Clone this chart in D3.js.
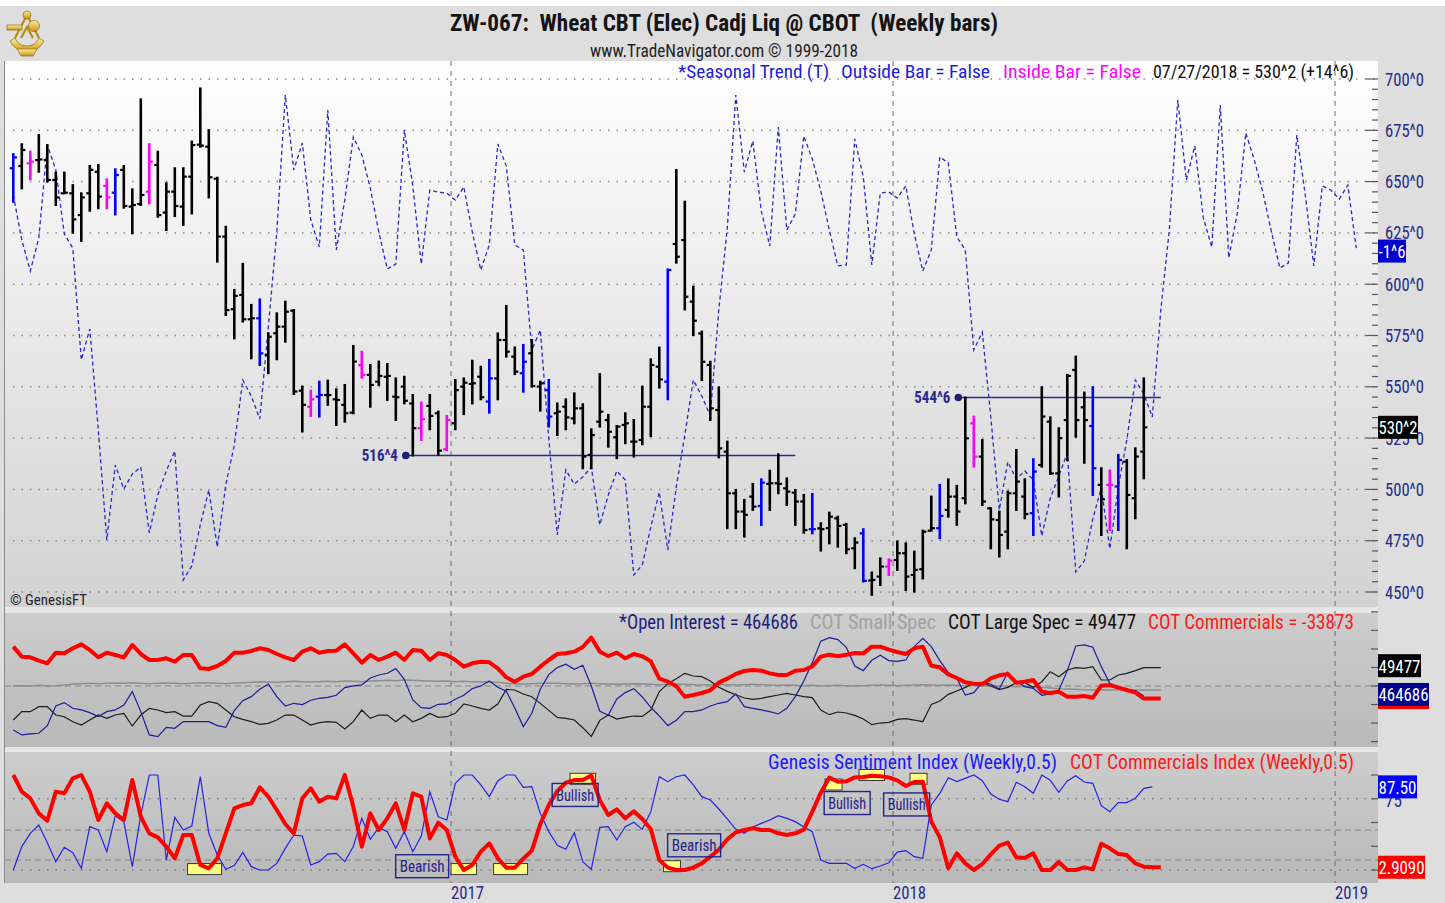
<!DOCTYPE html>
<html>
<head>
<meta charset="utf-8">
<title>ZW-067 Wheat CBT (Weekly bars)</title>
<script src="https://cdnjs.cloudflare.com/ajax/libs/d3/7.8.5/d3.min.js"></script>
<style>
  body { margin: 0; background: #fff; }
  svg text { font-family: "Liberation Sans Narrow", "Arial Narrow", "Roboto Condensed", "Liberation Sans", sans-serif; white-space: pre; }
</style>
</head>
<body>
<div id="chart"></div>
<script>
// weekly bars, first Fri 2016-01-08, last Fri 2018-07-27
var firstBar = new Date(2016, 0, 8);
var lastBar = new Date(2018, 6, 27);

var opens = [656.5,657.6,658.9,660.5,660.5,650.8,644.3,644.3,633.7,644.3,
  654.8,647.9,644.6,655.7,637.8,639.1,645.1,658.1,634.9,645.1,
  637.8,652.4,668.0,667.0,651.4,623.2,587.8,594.8,582.9,583.4,
  565.5,576.1,579.3,587.1,548.1,540.3,545.2,546.0,543.9,541.2,
  537.4,560.6,555.8,552.5,554.9,545.2,550.1,541.9,529.8,540.7,
  537.1,519.5,532.2,550.1,551.4,554.9,542.8,554.1,572.8,564.7,
  556.6,566.3,550.1,548.4,537.1,540.3,534.6,539.5,516.8,533.0,
  533.8,525.4,531.4,523.3,524.1,540.3,559.8,552.5,619.6,621.5,
  591.5,576.0,560.6,538.7,518.4,498.1,489.2,496.5,491.9,502.7,
  503.0,500.5,498.4,494.1,480.6,481.0,481.1,485.9,482.7,471.3,
  478.6,455.6,457.5,462.4,465.6,468.9,458.3,461.1,479.9,481.1,
  490.0,496.5,495.7,532.2,516.0,490.8,485.1,479.4,498.1,496.5,
  488.4,511.9,533.0,507.8,533.8,558.2,540.0,530.9,502.2,502.2,
  501.4,513.5,495.7,518.4];
var highs = [663.4,668.2,664.6,672.7,667.8,654.4,654.4,648.3,644.3,657.6,
  658.1,651.1,656.0,657.6,646.2,690.1,668.2,664.6,649.2,656.5,
  656.5,669.5,695.4,675.1,651.9,628.0,597.2,609.9,589.9,592.6,
  576.1,585.8,591.5,587.4,550.1,548.1,552.5,553.0,548.8,550.9,
  569.9,567.1,560.6,562.3,561.1,554.1,554.9,546.0,542.3,546.0,
  537.9,535.8,553.3,554.1,562.7,559.8,563.1,576.0,589.4,569.2,
  570.4,572.8,552.5,553.3,541.9,543.9,546.8,541.5,529.3,556.2,
  536.3,530.9,537.1,533.8,550.1,563.4,569.1,607.2,655.6,640.2,
  598.8,576.9,562.2,549.7,523.3,499.7,494.9,502.7,504.9,509.1,
  517.1,505.4,499.7,497.3,497.8,483.5,488.7,486.7,483.2,476.2,
  480.6,459.5,466.4,465.9,474.6,473.7,469.7,479.9,496.5,502.2,
  504.9,501.7,544.75,535.5,524.1,490.8,489.2,498.9,519.2,504.9,
  514.7,549.8,535.1,529.8,555.8,564.7,547.2,549.8,510.3,509.2,
  516.8,514.3,520.0,554.1];
var lows = [640.2,646.7,651.1,654.8,650.0,638.6,644.3,625.1,621.1,635.8,
  637.0,637.0,634.0,637.3,624.8,638.6,639.4,632.9,626.4,633.2,
  628.9,634.5,667.0,642.3,611.0,585.0,573.6,581.8,563.9,560.6,
  556.6,563.4,572.0,546.5,528.2,535.8,535.5,541.2,531.4,533.0,
  537.1,554.5,540.3,550.9,543.6,533.8,541.9,516.5,524.1,529.3,
  517.0,519.2,529.3,536.7,541.9,543.9,537.4,543.9,564.7,556.2,
  547.6,550.1,538.4,530.6,526.5,529.3,532.2,510.3,510.3,530.6,
  520.8,515.2,522.5,516.0,522.0,526.0,549.6,543.9,610.5,587.7,
  575.2,553.3,533.8,515.6,481.1,481.1,477.0,490.0,482.7,490.0,
  498.1,492.4,482.7,478.9,478.6,470.2,473.7,472.1,468.9,461.6,
  455.1,448.6,453.4,458.3,460.8,451.0,450.2,456.6,479.9,476.2,
  486.7,482.7,493.2,511.1,492.4,471.3,467.3,471.3,490.0,485.9,
  477.8,511.1,507.5,496.5,514.3,525.7,513.0,497.3,477.8,480.2,
  480.2,471.3,485.9,505.4];
var closes = [661.8,665.4,659.7,660.8,650.8,642.3,644.6,631.6,642.3,655.7,
  642.7,642.3,653.2,638.1,638.6,643.5,659.7,633.7,645.1,638.1,
  652.4,667.8,667.5,652.1,623.2,587.4,594.3,582.9,583.4,566.3,
  574.4,579.3,586.6,547.7,541.2,543.9,546.0,546.0,543.6,537.1,
  562.3,555.8,550.9,555.3,555.3,544.9,543.2,529.8,534.2,535.8,
  518.9,533.8,548.4,552.0,551.7,544.9,554.1,572.8,567.1,557.4,
  562.2,550.4,551.7,535.5,537.9,535.1,539.5,516.0,526.5,537.9,
  528.1,530.6,532.2,523.3,540.3,560.6,553.6,606.9,613.4,593.9,
  582.2,562.2,539.5,520.0,498.1,489.2,487.6,491.6,503.3,503.0,
  502.7,498.9,494.1,480.2,480.6,480.6,486.7,482.2,470.8,474.1,
  455.4,455.9,462.4,465.3,468.9,457.5,460.8,479.4,481.1,487.1,
  496.5,489.2,524.9,516.0,494.1,485.4,477.8,498.1,503.8,488.0,
  508.7,535.5,507.8,525.0,555.3,533.8,533.8,510.3,495.2,502.2,
  514.3,497.3,516.0,530.25];
// bar colouring flags
var outsideBars = [0,12,29,36,56,60,63,77,88,94,100,109,120,127,130];
var insideBars = [2,11,16,35,41,48,51,103,113,129];

// seasonal trend, one point per week, runs past the last bar
var seasonal = [643.5,621.5,606.4,622.5,667.8,655.7,624.5,617.6,563.1,578.2,
  529.0,475.4,511.9,500.2,507.5,510.9,478.8,497.3,509.0,518.7,
  455.9,462.7,482.7,499.7,471.9,502.2,521.6,553.3,545.5,534.3,
  579.1,625.4,692.2,655.7,668.8,631.3,618.1,684.9,616.7,641.0,
  671.7,663.0,646.9,625.4,607.4,609.8,675.1,647.9,609.8,645.9,
  644.9,644.4,641.0,647.4,625.4,606.9,619.1,668.3,657.6,619.1,
  616.7,567.9,577.7,524.6,477.8,509.5,502.6,506.1,510.9,482.7,
  497.3,509.0,504.6,458.3,463.2,481.7,498.7,470.5,501.2,526.5,
  553.3,545.5,535.8,587.4,627.4,692.2,654.7,669.8,635.7,618.6,
  676.6,626.4,634.2,672.2,661.0,645.4,626.4,608.9,609.4,670.8,
  652.2,609.4,644.4,644.9,642.0,647.9,624.5,606.4,616.7,662.0,
  659.1,623.0,616.7,567.9,576.7,535.3,490.0,513.4,505.1,509.0,
  504.6,477.3,495.8,506.5,517.7,459.8,465.1,485.6,500.7,471.0,
  501.2,524.1,553.3,546.5,535.3,587.4,626.4,689.8,650.8,667.4,
  632.3,618.1,687.3,612.8,634.7,673.7,660.5,644.9,625.9,607.9,
  610.3,672.7,643.5,608.9,647.9,645.9,641.5,648.3,617.6];

// support / resistance marks
var levelValues = [516.5, 544.75];
var levelLabels = ["516^4", "544^6"];
var levelFrom = [47, 112];
var levelTo = [92, 135];

// COT panel, thousands of contracts
var openInterest = [403.5,394.5,396.3,397.5,411.3,446.7,452.7,442.5,439.5,434.7,
  427.5,436.5,439.5,448.5,472.5,436.5,394.5,391.5,408.3,406.5,
  418.5,418.5,418.5,418.5,411.3,408.3,438.3,456.3,463.5,476.7,
  486.3,463.5,446.7,451.5,449.1,456.9,460.5,462.3,465.9,479.7,
  482.7,484.5,497.1,502.5,505.5,513.9,494.7,457.5,443.7,442.5,
  449.7,450.3,458.7,465.9,477.9,482.7,491.7,480.3,473.1,443.1,
  409.5,433.5,476.7,503.1,515.7,521.7,512.7,519.9,482.7,437.1,
  430.5,459.3,470.7,477.9,462.9,444.3,428.7,411.3,420.9,436.5,
  436.5,439.5,446.7,451.5,454.5,468.3,445.5,442.5,439.5,436.5,
  432.3,442.5,463.5,491.7,524.7,563.1,569.7,566.1,552.3,518.7,
  510.3,528.9,537.9,528.3,527.1,529.5,553.5,568.5,553.5,528.3,
  506.7,496.5,466.5,470.7,489.3,486.3,477.3,507.3,491.1,481.5,
  478.5,465.9,468.3,474.9,510.3,554.7,556.5,552.3,517.5,487.5,
  479.1,476.1,474.3,464.686];
var smallSpec = [0.0,0.9,0.0,1.8,0.0,0.9,2.7,5.4,6.3,7.2,
  6.3,7.2,8.1,7.2,9.0,7.2,6.3,7.2,8.1,7.2,
  6.3,7.2,9.0,8.1,7.2,6.3,8.1,9.0,9.9,11.7,
  10.8,9.9,11.7,12.6,11.7,10.8,11.7,12.6,11.7,13.5,
  12.6,11.7,13.5,14.4,15.3,14.4,16.2,15.3,14.4,13.5,
  12.6,13.5,11.7,12.6,11.7,10.8,11.7,9.9,7.2,6.3,
  5.4,6.3,7.2,8.1,7.2,6.3,5.4,6.3,7.2,6.3,
  5.4,4.5,5.4,6.3,5.4,4.5,3.6,4.5,5.4,4.5,
  3.6,2.7,3.6,4.5,3.6,2.7,3.6,4.5,3.6,2.7,
  1.8,2.7,1.8,0.9,1.8,0.0,0.9,1.8,0.9,0.0,
  0.9,1.8,2.7,1.8,0.9,1.8,2.7,3.6,2.7,1.8,
  2.7,1.8,0.9,1.8,0.9,0.0,0.9,-0.9,-1.8,-0.9,
  -2.7,-3.6,-5.4,-7.2,-8.1,-9.0,-9.9,-10.8,-9.9,-10.8,
  -10.8,-9.9,-10.8,-10.8,-10.8,-10.8];
var largeSpec = [-91.8,-69.3,-69.3,-55.8,-55.8,-78.3,-82.8,-96.3,-105.3,-91.8,
  -78.3,-87.3,-78.3,-73.8,-108.0,-78.3,-60.3,-64.8,-72.0,-69.3,
  -81.0,-81.0,-51.3,-42.3,-46.8,-64.8,-82.8,-90.0,-96.3,-103.5,
  -100.8,-91.8,-78.3,-78.3,-91.8,-105.3,-99.0,-96.3,-98.1,-116.1,
  -96.3,-64.8,-87.3,-78.3,-78.3,-96.3,-78.3,-96.3,-87.3,-73.8,
  -84.6,-82.8,-73.8,-48.6,-54.0,-60.3,-64.8,-48.6,-9.0,-10.8,
  -21.6,-28.8,-46.8,-65.7,-84.6,-87.3,-91.8,-112.5,-135.9,-92.7,
  -78.3,-89.1,-84.6,-81.0,-81.9,-64.8,-15.3,6.3,19.8,34.2,
  27.0,25.2,13.5,-3.6,-14.4,-23.4,-32.4,-36.0,-33.3,-28.8,
  -24.3,-19.8,-24.3,-28.8,-31.5,-64.8,-77.4,-70.2,-72.9,-79.2,
  -89.1,-104.4,-99.9,-98.1,-90.0,-88.2,-91.8,-96.3,-49.5,-40.5,
  -22.5,-13.5,-3.6,8.1,9.0,0.0,-9.9,-3.6,9.0,9.0,
  -3.6,11.7,38.7,25.2,43.2,49.5,47.7,52.2,16.2,16.2,
  29.7,34.2,41.4,49.477,49.477,49.477];
var commercials = [106.2,79.2,77.4,68.4,61.2,90.0,88.2,101.7,112.5,97.2,
  77.4,90.0,83.7,77.4,110.7,86.4,70.2,70.2,74.7,65.7,
  83.7,83.7,47.7,45.9,54.0,67.5,90.0,90.0,94.5,101.7,
  97.2,86.4,77.4,70.2,92.7,101.7,90.0,94.5,95.4,112.5,
  88.2,63.0,83.7,70.2,79.2,90.0,70.2,97.2,95.4,70.2,
  88.2,83.7,70.2,52.2,61.2,65.7,63.9,47.7,23.4,11.7,
  25.2,32.4,52.2,70.2,86.4,88.2,92.7,105.3,130.5,92.7,
  81.0,90.0,74.7,86.4,80.1,66.6,19.8,11.7,-0.9,-28.8,
  -24.3,-18.9,-11.7,9.0,19.8,32.4,40.5,43.2,41.4,34.2,
  29.7,29.7,41.4,43.2,53.1,79.2,84.6,80.1,84.6,89.1,
  88.2,106.2,106.2,98.1,91.8,86.4,101.7,106.2,54.9,50.4,
  31.5,21.6,9.9,6.3,4.5,20.7,28.8,32.4,9.0,11.7,
  16.2,-15.3,-18.9,-15.3,-28.8,-28.8,-27.0,-31.5,0.9,2.7,
  -4.5,-10.8,-18.0,-33.873,-33.873,-33.873];

// sentiment panel, 0..100
var sentiment = [0,24.6,38.6,47.4,28.8,8.8,23.9,18.2,1.8,45.6,
  42.1,19.3,57.2,50.9,3.5,57.9,100,100,10.5,55.4,
  42.1,46.3,98.2,38.6,15.8,0.7,4.6,18.6,3.5,0,
  0,7,22.8,36.8,35.8,5.3,8.8,16.8,17.5,8.8,
  24.6,54.4,32.3,44.6,40.4,22.8,40.4,19.3,35.8,82.5,
  56.1,52.6,91.2,100,100,89.5,77.2,93.7,100,100,
  87,87.7,59.6,40.4,26,21.8,39.3,8.8,0.7,44.9,
  45.6,31.6,45.6,50.2,42.8,61.4,98.2,93,98.2,100,
  89.5,77.2,73.7,64.2,53.7,42.8,38.6,45.3,49.1,52.6,
  57.2,54.4,50.9,45.3,40.4,10.5,7,7,7,1.8,
  6,1.4,4.2,7.7,18.9,20.4,14,12.3,68.4,80.7,
  97.2,93,96.5,100,94,80,74.4,71.9,92.3,87.7,
  80.7,100,94.4,81.8,93.7,99.3,92.6,91.2,67.7,61.4,
  70.9,70.9,75.4,86,87.5];
var commIndex = [100,82.5,75.4,59.6,51.9,82.5,80.7,96.5,100,82.5,
  52.6,70.2,59.6,52.6,94.7,56.1,38.6,34.4,24.6,12.3,
  36.8,36.8,5.3,1.8,12.3,38.6,64.9,68.4,70.2,87,
  77.2,63.2,48.4,38.6,75.4,86,71.9,77.2,75.4,100,
  66.7,24.6,59.6,42.1,54.4,70.2,42.1,80.7,77.2,33.3,
  49.8,42.1,14,0,5.3,19.3,28.1,12.3,2.5,2.5,
  11.9,20.4,48.4,68.4,83.2,91.9,94.7,94.7,99.6,73.7,
  57.9,63.9,54.4,61.8,53.7,43.2,10.5,2.5,0,0,
  2.5,7,14,21.4,32.3,39.6,42.1,43.9,42.1,42.1,
  38.6,36.8,38.6,42.5,61.4,81.4,97.2,93,93.3,97.5,
  97.9,99.3,98.6,97.5,94.4,88.4,92.6,93,50.9,34.4,
  1.8,17.5,7,0,6.3,16.5,25.6,28.8,13.3,12.6,
  17.5,0,0,8.4,0,0,2.8,0.7,27.7,22.8,
  16.8,15.8,7,3.5,2.909,2.909];
// extreme-reading markers (bar ranges) and their level on the index
var signalFirst = [21, 52, 57, 66, 77, 96, 100, 106];
var signalLast = [24, 54, 60, 68, 78, 97, 102, 107];
var signalLevel = [1, 1, 1, 96, 4, 90, 100, 96];
var noteText = ["Bearish", "Bullish", "Bearish", "Bullish", "Bullish"];
var noteBar = [48.1, 66.1, 80.1, 98.1, 105.1];
var noteLevel = [4, 79, 26, 70.5, 69];

var priceTicks = [450, 475, 500, 525, 550, 575, 600, 625, 650, 675, 700];
var years = [2017, 2018, 2019];

// ---------------------------------------------------------------
var W = 1445, H = 903;
var plotL = 5, plotR = 1378;
var mainT = 61, mainB = 607, p1T = 613, p1B = 747, p2T = 752, p2B = 883;
var navy = "#2a2a8a";

var svg = d3.select("#chart").append("svg").attr("width", W).attr("height", H);
var defs = svg.append("defs");
function grad(id, c0, c1) {
  var g = defs.append("linearGradient").attr("id", id).attr("x1", 0).attr("y1", 0).attr("x2", 0).attr("y2", 1);
  g.append("stop").attr("offset", "0%").attr("stop-color", c0);
  g.append("stop").attr("offset", "100%").attr("stop-color", c1);
}
grad("gMain", "#ffffff", "#d2d2d2");
grad("gPanel", "#cdcdcd", "#b9b9b9");
grad("gGold", "#fff0a0", "#c89410");
defs.append("clipPath").attr("id", "clipMain").append("rect")
  .attr("x", plotL).attr("y", mainT).attr("width", plotR - plotL).attr("height", mainB - mainT);

svg.append("rect").attr("width", W).attr("height", H).attr("fill", "#dedede");
svg.append("rect").attr("width", W).attr("height", 6).attr("fill", "#ffffff");
svg.append("rect").attr("x", plotL).attr("y", mainT).attr("width", plotR - plotL).attr("height", mainB - mainT).attr("fill", "url(#gMain)");
svg.append("rect").attr("x", plotL).attr("y", mainB).attr("width", plotR - plotL).attr("height", p1T - mainB).attr("fill", "#e6e6e6");
svg.append("rect").attr("x", plotL).attr("y", p1T).attr("width", plotR - plotL).attr("height", p1B - p1T).attr("fill", "url(#gPanel)");
svg.append("rect").attr("x", plotL).attr("y", p1B).attr("width", plotR - plotL).attr("height", p2T - p1B).attr("fill", "#e6e6e6");
svg.append("rect").attr("x", plotL).attr("y", p2T).attr("width", plotR - plotL).attr("height", p2B - p2T).attr("fill", "url(#gPanel)");
svg.append("line").attr("x1", 4.5).attr("x2", 4.5).attr("y1", mainT).attr("y2", p2B).attr("stroke", "#8a8a8a");

// scales
function weekDate(i) { return d3.timeDay.offset(firstBar, 7 * i); }
var x = d3.scaleTime().domain([firstBar, lastBar]).range([13.3, 1143.8]);
var step = x(weekDate(1)) - x(weekDate(0));
function xi(i) { return x(weekDate(0)) + i * step; }
var priceY = d3.scaleLinear().domain([450, 700]).range([592, 79]);
var cotY = d3.scaleLinear().domain([-150, 200]).range([741.6, 611.9]);
var oiY = d3.scaleLinear().domain([400, 580]).range([731.9, 631.9]);
var idxY = d3.scaleLinear().domain([0, 100]).range([870, 775]);

function txt(g, xx, yy, s, size, fill, width, anchor, weight) {
  var t = g.append("text").attr("x", xx).attr("y", yy).attr("font-size", size)
    .attr("fill", fill).attr("text-anchor", anchor || "start").text(s);
  if (weight) t.attr("font-weight", weight);
  if (width) t.attr("textLength", width).attr("lengthAdjust", "spacingAndGlyphs");
  return t;
}

// ---- grid
var grid = svg.append("g");
grid.selectAll("line.h").data(priceTicks).enter().append("line")
  .attr("x1", 13).attr("x2", plotR).attr("y1", function (d) { return priceY(d); }).attr("y2", function (d) { return priceY(d); })
  .attr("stroke", "#8a8a8a").attr("stroke-width", 1.5).attr("stroke-dasharray", "1.5,7");
grid.append("line").attr("x1", plotL).attr("x2", plotR).attr("y1", cotY(0)).attr("y2", cotY(0))
  .attr("stroke", "#858585").attr("stroke-dasharray", "6,4");
[75, 0].forEach(function (v) {
  grid.append("line").attr("x1", 13).attr("x2", plotR).attr("y1", idxY(v)).attr("y2", idxY(v))
    .attr("stroke", "#7a7a7a").attr("stroke-width", 1.5).attr("stroke-dasharray", "1.5,7");
});
[42.1, 10.5].forEach(function (v) {
  grid.append("line").attr("x1", plotL).attr("x2", plotR).attr("y1", idxY(v)).attr("y2", idxY(v))
    .attr("stroke", "#858585").attr("stroke-dasharray", "6,4");
});
var yearX = years.map(function (y) {
  return x(d3.timeFriday.ceil(new Date(y, 0, 1))) - step / 2;
});
grid.selectAll("line.v").data(yearX).enter().append("line")
  .attr("x1", function (d) { return d; }).attr("x2", function (d) { return d; })
  .attr("y1", mainT).attr("y2", p2B)
  .attr("stroke", "#6e6e6e").attr("stroke-dasharray", "5,5");

// ---- main panel
var main = svg.append("g").attr("clip-path", "url(#clipMain)");
main.append("path").datum(seasonal)
  .attr("d", d3.line().x(function (d, i) { return xi(i); }).y(function (d) { return priceY(d); }))
  .attr("fill", "none").attr("stroke", "#2828cc").attr("stroke-width", 1.3).attr("stroke-dasharray", "4,3");

levelValues.forEach(function (v, k) {
  var x0 = xi(levelFrom[k]) - 7, yv = priceY(v);
  main.append("line").attr("x1", x0).attr("x2", xi(levelTo[k])).attr("y1", yv).attr("y2", yv)
    .attr("stroke", "#2b2b8e").attr("stroke-width", 1.6);
  main.append("circle").attr("cx", x0).attr("cy", yv).attr("r", 3.8).attr("fill", "#1e1e78");
  txt(main, x0 - 8, yv + 5.5, levelLabels[k], 16, navy, 36, "end", "bold");
});

function barColor(i) {
  if (outsideBars.indexOf(i) >= 0) return "#0000ff";
  if (insideBars.indexOf(i) >= 0) return "#ff00ff";
  return "#000000";
}
var bars = main.selectAll("g.bar").data(d3.range(closes.length)).enter().append("g")
  .attr("stroke", barColor);
bars.append("line").attr("x1", xi).attr("x2", xi)
  .attr("y1", function (i) { return priceY(highs[i]) - 1; }).attr("y2", function (i) { return priceY(lows[i]) + 1; })
  .attr("stroke-width", 2.6);
bars.append("line").attr("x1", function (i) { return xi(i) - 3.6; }).attr("x2", xi)
  .attr("y1", function (i) { return priceY(opens[i]); }).attr("y2", function (i) { return priceY(opens[i]); })
  .attr("stroke-width", 2.2);
bars.append("line").attr("x1", xi).attr("x2", function (i) { return xi(i) + 3.6; })
  .attr("y1", function (i) { return priceY(closes[i]); }).attr("y2", function (i) { return priceY(closes[i]); })
  .attr("stroke-width", 2.2);

// ---- COT panel
var lineFor = function (scale) {
  return d3.line().x(function (d, i) { return xi(i); }).y(function (d) { return scale(d); });
};
var p1 = svg.append("g");
p1.append("path").datum(smallSpec).attr("d", lineFor(cotY)).attr("fill", "none").attr("stroke", "#8e8e8e").attr("stroke-width", 1.5);
p1.append("path").datum(largeSpec).attr("d", lineFor(cotY)).attr("fill", "none").attr("stroke", "#1c1c1c").attr("stroke-width", 1.2);
p1.append("path").datum(openInterest).attr("d", lineFor(oiY)).attr("fill", "none").attr("stroke", "#1d1d9e").attr("stroke-width", 1.2);
p1.append("path").datum(commercials).attr("d", lineFor(cotY)).attr("fill", "none").attr("stroke", "#ff0000")
  .attr("stroke-width", 4).attr("stroke-linejoin", "round");

// ---- sentiment panel
var p2 = svg.append("g");
signalFirst.forEach(function (f, k) {
  var x0 = xi(f) - step / 2, x1 = xi(signalLast[k]) + step / 2;
  p2.append("rect").attr("x", x0).attr("y", idxY(signalLevel[k]) - 5.5).attr("width", x1 - x0).attr("height", 11)
    .attr("fill", "#ffff80").attr("stroke", "#3a3a3a").attr("stroke-width", 1);
});
p2.append("path").datum(sentiment).attr("d", lineFor(idxY)).attr("fill", "none").attr("stroke", "#2323e6").attr("stroke-width", 1.2);
p2.append("path").datum(commIndex).attr("d", lineFor(idxY)).attr("fill", "none").attr("stroke", "#ff0000")
  .attr("stroke-width", 4).attr("stroke-linejoin", "round");
noteText.forEach(function (s, k) {
  var w = s === "Bearish" ? 53 : 46, cx = xi(noteBar[k]), cy = idxY(noteLevel[k]);
  p2.append("rect").attr("x", cx - w / 2).attr("y", cy - 11.5).attr("width", w).attr("height", 23)
    .attr("fill", "none").attr("stroke", "#24248a").attr("stroke-width", 1.4);
  txt(p2, cx, cy + 6, s, 17, "#24248a", w - 8, "middle");
});

// ---- right axes
var ax = svg.append("g");
d3.range(450, 701, 5).forEach(function (v) {
  var major = v % 25 === 0;
  ax.append("line").attr("x1", major ? 1366 : 1372).attr("x2", 1378).attr("y1", priceY(v)).attr("y2", priceY(v))
    .attr("stroke", "#555").attr("stroke-width", 1.2);
});
priceTicks.forEach(function (v) {
  txt(ax, 1385, priceY(v) + 6.5, v + "^0", 18, navy, 39);
});
d3.range(-150, 201, 50).forEach(function (v) {
  ax.append("line").attr("x1", 1371).attr("x2", 1378).attr("y1", cotY(v)).attr("y2", cotY(v)).attr("stroke", "#555").attr("stroke-width", 1.2);
});
[0, 25, 50, 75, 100].forEach(function (v) {
  ax.append("line").attr("x1", 1371).attr("x2", 1378).attr("y1", idxY(v)).attr("y2", idxY(v)).attr("stroke", "#555").attr("stroke-width", 1.2);
});
txt(ax, 1385, idxY(75) + 8, "75", 18, navy, 17);

// last-value boxes sit on top of the axis labels, as in the terminal
function valueBox(yc, w, bg, s, tw) {
  ax.append("rect").attr("x", 1378).attr("y", yc - 11.5).attr("width", w).attr("height", 23).attr("fill", bg);
  if (s) txt(ax, 1378.5, yc + 7, s, 18, "#ffffff", tw || w - 1);
}
valueBox(priceY(seasonal[seasonal.length - 1]) + 3, 28, "#0000cc", "-1^6");
valueBox(priceY(closes[closes.length - 1]), 40, "#000000", "530^2");
valueBox(cotY(commercials[commercials.length - 1]) - 1, 51, "#ff0000", "");
valueBox(cotY(largeSpec[largeSpec.length - 1]) - 2, 43, "#000000", "49477");
valueBox(oiY(openInterest[openInterest.length - 1]) - 1.5, 51, "#00008c", "464686", 50);
valueBox(idxY(sentiment[sentiment.length - 1]), 39, "#0000ff", "87.50");
valueBox(idxY(commIndex[commIndex.length - 1]), 47, "#ff0000", "2.9090", 46);

// year labels
yearX.forEach(function (xx, k) { txt(svg, xx, 899, String(years[k]), 18, navy, 33); });

// ---- titles and legends
var head = svg.append("g");
txt(head, 450, 31, "ZW-067:  Wheat CBT (Elec) Cadj Liq @ CBOT  (Weekly bars)", 23, "#141414", 548, "start", "bold");
txt(head, 590, 57, "www.TradeNavigator.com \u00a9 1999-2018", 18, "#1e1e1e", 268);
txt(head, 678, 78, "*Seasonal Trend (T)", 19, "#2020d8", 151);
txt(head, 841, 78, "Outside Bar = False", 19, "#2020d8", 149);
txt(head, 1003, 78, "Inside Bar = False", 19, "#ff00ff", 138);
txt(head, 1153, 78, "07/27/2018 = 530^2 (+14^6)", 19, "#111111", 201);
txt(head, 619, 629, "*Open Interest = 464686", 20, "#1e1e7c", 179);
txt(head, 810, 629, "COT Small Spec", 20, "#a2a2a2", 126);
txt(head, 948, 629, "COT Large Spec = 49477", 20, "#121212", 188);
txt(head, 1148, 629, "COT Commercials = -33873", 20, "#ff1a1a", 206);
txt(head, 768, 769, "Genesis Sentiment Index (Weekly,0.5)", 20, "#1a1aff", 289);
txt(head, 1070, 769, "COT Commercials Index (Weekly,0.5)", 20, "#ff1a1a", 284);
txt(head, 10, 605, "\u00a9 GenesisFT", 15, "#222222", 77);

// ---- logo (gold sextant)
var logo = svg.append("g").attr("transform", "translate(27,35)").attr("stroke", "#8c6d0a").attr("stroke-width", 0.7);
logo.append("path").attr("d", "M-17,6 A19,19 0 0,0 17,6 L12,3 A13,13 0 0,1 -12,3 Z").attr("fill", "url(#gGold)");
logo.append("path").attr("d", "M-12,3 L0,-20 L12,3 M-6,3 L0,-8 L6,3").attr("fill", "none").attr("stroke", "#b88a10").attr("stroke-width", 2.2);
logo.append("rect").attr("x", -20).attr("y", -10).attr("width", 15).attr("height", 5).attr("fill", "url(#gGold)");
logo.append("circle").attr("cx", 0).attr("cy", -20).attr("r", 4).attr("fill", "url(#gGold)");
logo.append("circle").attr("cx", 7).attr("cy", -9).attr("r", 5.5).attr("fill", "url(#gGold)");
logo.append("path").attr("d", "M-10,14 L10,14 L6,21 L-6,21 Z").attr("fill", "url(#gGold)");
</script>
</body>
</html>
